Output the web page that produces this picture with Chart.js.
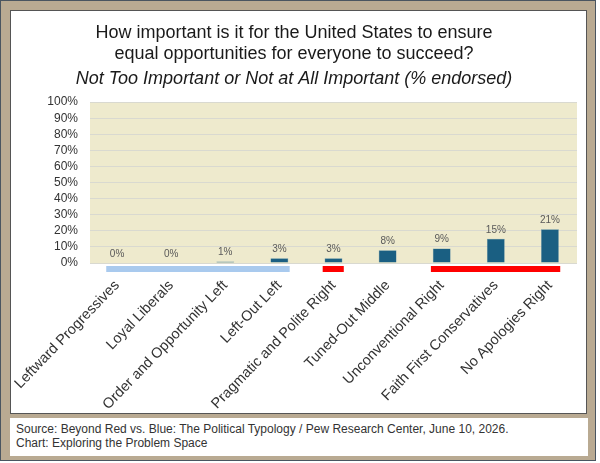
<!DOCTYPE html>
<html>
<head>
<meta charset="utf-8">
<script src="https://cdn.jsdelivr.net/npm/chart.js@4"></script>
<style>
  html, body { margin:0; padding:0; background:#ffffff; }
  #frame { position:absolute; left:0; top:0; width:596px; height:461px; background:#b9aa92; border:1px solid #4a5560; box-sizing:border-box; }
  #panel { position:absolute; left:10px; top:10px; width:577px; height:404px; background:#fff; border:1px solid #555; box-sizing:border-box; }
  #src { position:absolute; left:10px; top:418px; width:578px; height:38px; background:#fff; box-sizing:border-box;
         font-family:"Liberation Sans", Arial, sans-serif; font-size:12px; color:#333; padding:5px 0 0 6px; line-height:13.5px; }
  #wrap { position:absolute; left:11px; top:11px; width:575px; height:402px; }
</style>
</head>
<body>
<div id="frame"></div>
<div id="panel"></div>
<div id="wrap"><canvas id="c"></canvas></div>
<div id="src">Source: Beyond Red vs. Blue: The Political Typology / Pew Research Center, June 10, 2026.<br>Chart: Exploring the Problem Space</div>
<script>
const categories = ["Leftward Progressives","Loyal Liberals","Order and Opportunity Left","Left-Out Left","Pragmatic and Polite Right","Tuned-Out Middle","Unconventional Right","Faith First Conservatives","No Apologies Right"];
const values = [0, 0, 1, 3, 3, 8, 9, 15, 21];
const yTicks = [0,10,20,30,40,50,60,70,80,90,100];
const groupStart = [0, 4, 6];
const groupEnd = [3, 4, 8];
const groupColors = ["#a9caee", "#ff0000", "#ff0000"];

const plotBg = {
  id:'plotBg',
  beforeDraw(chart){
    const {ctx, chartArea:a} = chart;
    ctx.save(); ctx.fillStyle = '#eeeacd';
    ctx.fillRect(a.left, a.top, a.right-a.left, a.bottom-a.top);
    ctx.restore();
  }
};
const bands = {
  id:'bands',
  afterDraw(chart){
    const {ctx, chartArea:a} = chart;
    const x = chart.scales.x;
    const step = x.getPixelForValue(1) - x.getPixelForValue(0);
    ctx.save();
    for (let i=0;i<groupStart.length;i++){
      const l = x.getPixelForValue(groupStart[i]) - step*0.2;
      const r = x.getPixelForValue(groupEnd[i]) + step*0.19;
      ctx.fillStyle = groupColors[i];
      ctx.fillRect(l, a.bottom+3, r-l, 6);
    }
    ctx.restore();
  }
};
const labels = {
  id:'labels',
  afterDatasetsDraw(chart){
    const {ctx} = chart;
    const meta = chart.getDatasetMeta(0);
    ctx.save();
    ctx.font = '10px "Liberation Sans", Arial, sans-serif';
    ctx.fillStyle = '#595959';
    ctx.textAlign = 'center';
    ctx.textBaseline = 'bottom';
    meta.data.forEach((el,i)=>{
      ctx.fillText(values[i]+'%', el.x, el.y - 4);
    });
    ctx.restore();
  }
};

new Chart(document.getElementById('c'), {
  type:'bar',
  data:{ labels:categories, datasets:[{ data:values, backgroundColor:'#1a5f82', borderColor:'#5f8fa8', borderWidth:0.5, barPercentage:0.33, categoryPercentage:1.0 }] },
  plugins:[plotBg, bands, labels],
  options:{
    responsive:true, maintainAspectRatio:false, animation:false,
    devicePixelRatio:1,
    layout:{ padding:{ left:0, right:9, top:0, bottom:0 } },
    plugins:{
      legend:{ display:false }, tooltip:{ enabled:false },
      title:{ display:true, text:["How important is it for the United States to ensure","equal opportunities for everyone to succeed?"],
        font:{ family:'"Liberation Sans", Arial, sans-serif', size:18, weight:'normal', lineHeight:1.15 }, color:'#1a1a1a', padding:{ top:12, bottom:4 } },
      subtitle:{ display:true, text:"Not Too Important or Not at All Important (% endorsed)",
        font:{ family:'"Liberation Sans", Arial, sans-serif', size:18, style:'italic', lineHeight:1.15 }, color:'#1a1a1a', padding:{ top:0, bottom:13 } }
    },
    scales:{
      y:{ min:0, max:100, afterFit(s){ s.width = 79; },
        afterBuildTicks(s){ s.ticks = yTicks.map(v=>({value:v})); },
        ticks:{ autoSkip:false, callback:v=>v+'%', font:{ family:'"Liberation Sans", Arial, sans-serif', size:12 }, color:'#333', padding:12 },
        grid:{ color:'#d9d9d0', drawTicks:false }, border:{ display:false } },
      x:{ afterFit(s){ s.height = 150; s.paddingLeft = 0; s.paddingRight = 0; },
        ticks:{ minRotation:46, maxRotation:46, autoSkip:false, font:{ family:'"Liberation Sans", Arial, sans-serif', size:14.5 }, color:'#333', padding:14 },
        grid:{ display:false, drawTicks:false }, border:{ display:false } }
    }
  }
});
</script>
</body>
</html>
